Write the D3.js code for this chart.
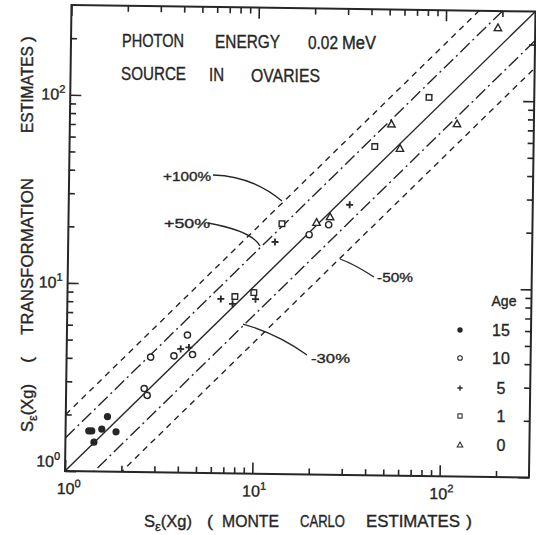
<!DOCTYPE html>
<html>
<head>
<meta charset="utf-8">
<script src="https://cdn.jsdelivr.net/npm/d3@7"></script>
<style>
  html, body { margin: 0; padding: 0; background: #fff; }
  svg { display: block; }
  text { font-family: "Liberation Sans", Arial, sans-serif; fill: #262626; stroke: #262626; stroke-width: 0.35px; }
</style>
</head>
<body>
<script>
// Organ dose: transformation estimates vs Monte Carlo estimates, 0.02 MeV, source in ovaries
const ageLabels = ["15", "10", "5", "1", "0"];
const age15 = [[1.33, 1.64], [1.38, 1.64], [1.56, 1.68], [1.67, 1.96], [1.86, 1.63], [1.42, 1.43]];
const age10 = [[2.81, 4.09], [3.74, 4.17], [4.40, 5.39], [4.70, 4.25], [2.61, 2.78], [2.71, 2.56], [19.3, 18.8], [24.5, 21.3]];
const age5  = [[4.06, 4.54], [4.49, 4.63], [6.59, 8.44], [7.62, 7.96], [10.1, 8.46], [12.7, 17.1], [31.6, 27.3]];
const age1  = [[7.83, 8.71], [9.88, 9.17], [13.8, 21.4], [42.6, 55.9], [82.3, 103]];
const age0  = [[21.1, 21.8], [24.9, 23.4], [52.1, 73.6], [58.1, 54.7], [116.6, 74.6], [189.7, 243.6]];

// reference lines y = r * x
const refRatios = [2, 1.5, 1, 0.7, 0.5];
const refLabels = ["+100%", "+50%", "", "-30%", "-50%"];

const majorTicks = [1, 10, 100];
const minorTicks = [2, 3, 4, 5, 6, 7, 8, 9, 20, 30, 40, 50, 60, 70, 80, 90, 200];
const majorExp = ["0", "1", "2"];

const W = 536, H = 535;
const plotW = 464, plotH = 466;
const ink = "#262626";

const svg = d3.select("body").append("svg").attr("width", W).attr("height", H);
svg.append("rect").attr("width", W).attr("height", H).attr("fill", "#fff");

const x = d3.scaleLog().domain([1, 300]).range([0, plotW]);
const y = d3.scaleLog().domain([1, 300]).range([0, -plotH]);

// the whole plot sheet sits slightly turned
const g = svg.append("g").attr("transform", "translate(65,471) rotate(0.8)");

g.append("clipPath").attr("id", "plotClip")
  .append("rect").attr("x", 0).attr("y", -plotH).attr("width", plotW).attr("height", plotH);

// ticks on all four sides, pointing inward
const axes = [
  [() => d3.axisBottom(x), "translate(0,0)"],
  [() => d3.axisTop(x), `translate(0,${-plotH})`],
  [() => d3.axisLeft(y), "translate(0,0)"],
  [() => d3.axisRight(y), `translate(${plotW},0)`]
];
axes.forEach(([make, tr]) => {
  [[minorTicks, -6], [majorTicks, -11]].forEach(([vals, size]) => {
    const a = g.append("g").attr("transform", tr).style("color", ink)
      .call(make().tickValues(vals).tickSize(size).tickSizeOuter(0).tickFormat(""));
    a.select(".domain").remove();
    a.selectAll(".tick line").attr("stroke-width", 1.6);
  });
});

// frame
g.append("rect").attr("x", 0).attr("y", -plotH).attr("width", plotW).attr("height", plotH)
  .attr("fill", "none").attr("stroke", ink).attr("stroke-width", 2);

// tick labels 10^n
majorTicks.forEach((v, i) => {
  const t = g.append("text").attr("x", x(v) + (i === 0 ? 4 : 2)).attr("y", 23)
    .attr("text-anchor", "middle").style("font-size", "16px");
  t.append("tspan").text("10");
  t.append("tspan").attr("dy", -7).style("font-size", "11px").text(majorExp[i]);
});
majorTicks.forEach((v, i) => {
  const t = g.append("text").attr("x", -5).attr("y", i === 0 ? y(v) - 4 : y(v) + 5)
    .attr("text-anchor", "end").style("font-size", "16px");
  t.append("tspan").text("10");
  t.append("tspan").attr("dy", -7).style("font-size", "11px").text(majorExp[i]);
});

// reference lines
const dashes = ["6,5", "13,4,2,4", null, "13,4,2,4", "6,5"];
const line = d3.line().x(d => x(d[0])).y(d => y(d[1]));
const lines = g.append("g").attr("clip-path", "url(#plotClip)");
refRatios.forEach((r, i) => {
  lines.append("path")
    .attr("d", line([[1, r], [300, 300 * r]]))
    .attr("fill", "none").attr("stroke", ink).attr("stroke-width", 1.4)
    .attr("stroke-dasharray", dashes[i]);
});

// markers
const pts = g.append("g");
function place(sel) { return sel.attr("transform", d => `translate(${x(d[0])},${y(d[1])})`); }
const shapes = {
  filled: s => s.append("circle").attr("r", 3.6).attr("fill", ink),
  circle: s => s.append("circle").attr("r", 3.1).attr("fill", "#fff").attr("stroke", ink).attr("stroke-width", 1.4),
  plus: s => s.append("path").attr("d", "M-3.5,0H3.5M0,-3.5V3.5").attr("stroke", ink).attr("stroke-width", 1.8),
  square: s => s.append("rect").attr("x", -2.8).attr("y", -2.8).attr("width", 5.6).attr("height", 5.6)
    .attr("fill", "#fff").attr("stroke", ink).attr("stroke-width", 1.4),
  triangle: s => s.append("path").attr("d", "M0,-4L3.7,2.6H-3.7Z").attr("fill", "#fff")
    .attr("stroke", ink).attr("stroke-width", 1.4)
};
const groups = [[age15, "filled"], [age10, "circle"], [age5, "plus"], [age1, "square"], [age0, "triangle"]];
groups.forEach(([data, kind]) => {
  const sel = place(pts.selectAll(null).data(data).enter().append("g"));
  shapes[kind](sel);
});

// title block
function word(txt, xPos, yPos, len, size) {
  svg.append("text").attr("x", xPos).attr("y", yPos).style("font-size", size + "px")
    .attr("textLength", len).attr("lengthAdjust", "spacingAndGlyphs").text(txt);
}
word("PHOTON", 122, 47, 62, 17.5);
word("ENERGY", 215, 48, 65, 17.5);
word("0.02", 308, 49, 30, 17.5);
word("MeV", 342, 49, 34, 17.5);
word("SOURCE", 121, 80, 65, 17.5);
word("IN", 209, 81, 15, 17.5);
word("OVARIES", 251, 82, 69, 17.5);

// axis titles
const xt = svg.append("text").attr("x", 144).attr("y", 527).style("font-size", "16.5px");
xt.append("tspan").text("S");
xt.append("tspan").attr("dy", 4).style("font-size", "13px").text("ε");
xt.append("tspan").attr("dy", -4).text("(Xg)");
word("(", 207, 527, 6, 16.5);
word("MONTE", 222, 527, 57, 16.5);
word("CARLO", 300, 527, 45, 16.5);
word("ESTIMATES", 366, 527, 94, 16.5);
word(")", 466, 527, 6, 16.5);

const yg = svg.append("g").attr("transform", "translate(33,0)");
function vword(txt, yStart, len) {
  yg.append("text").attr("transform", `translate(0,${yStart}) rotate(-90)`).style("font-size", "16.5px")
    .attr("textLength", len).attr("lengthAdjust", "spacingAndGlyphs").text(txt);
}
const ys = yg.append("text").attr("transform", "translate(0,432) rotate(-90)").style("font-size", "16.5px");
ys.append("tspan").text("S");
ys.append("tspan").attr("dy", 4).style("font-size", "13px").text("ε");
ys.append("tspan").attr("dy", -4).text("(Xg)");
vword("(", 363, 6);
vword("TRANSFORMATION", 335, 157);
vword("ESTIMATES", 133, 87);
vword(")", 42, 6);

// legend
svg.append("text").attr("x", 504).attr("y", 306).attr("text-anchor", "middle")
  .style("font-size", "14px").text("Age");
const legendY = [330, 358, 388, 416, 445];
const legendKinds = ["filled", "circle", "plus", "square", "triangle"];
ageLabels.forEach((lab, i) => {
  const s = svg.append("g").attr("transform", `translate(460,${legendY[i]}) scale(0.75)`);
  shapes[legendKinds[i]](s);
  svg.append("text").attr("x", 501).attr("y", legendY[i] + 6).attr("text-anchor", "middle")
    .style("font-size", "16px").text(lab);
});

// leader annotations for the reference lines
const notes = [
  { label: refLabels[0], tx: 163, ty: 181, len: 48, p0: [213, 175], c: [252, 176], p1: [282, 201] },
  { label: refLabels[1], tx: 164, ty: 228, len: 46, p0: [208, 223], c: [252, 231], p1: [260, 246] },
  { label: refLabels[4], tx: 377, ty: 282, len: 36, p0: [374, 277], c: [354, 264], p1: [340, 259] },
  { label: refLabels[3], tx: 311, ty: 363, len: 39, p0: [307, 355], c: [278, 334], p1: [243, 324] }
];
notes.forEach(n => {
  svg.append("text").attr("x", n.tx).attr("y", n.ty).style("font-size", "13px")
    .attr("textLength", n.len).attr("lengthAdjust", "spacingAndGlyphs").text(n.label);
  const p = d3.path();
  p.moveTo(n.p0[0], n.p0[1]);
  p.quadraticCurveTo(n.c[0], n.c[1], n.p1[0], n.p1[1]);
  svg.append("path").attr("d", p.toString()).attr("fill", "none")
    .attr("stroke", ink).attr("stroke-width", 1.3);
});
</script>
</body>
</html>
